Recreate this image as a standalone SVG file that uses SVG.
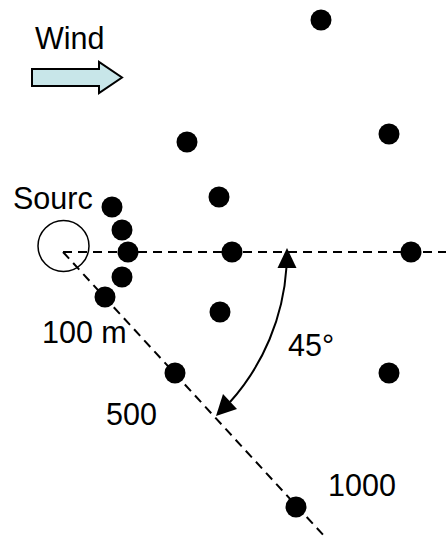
<svg xmlns="http://www.w3.org/2000/svg" width="446" height="538" viewBox="0 0 446 538">
  <style>
    .lbl { font-family: "Liberation Sans", Arial, sans-serif; font-size: 30.5px; fill: #000; }
    .dash { stroke: #000; stroke-width: 2; stroke-dasharray: 9 6; fill: none; }
    .dot { fill: #000; }
  </style>
  <rect width="446" height="538" fill="#fff"/>

  <!-- wind indicator -->
  <g id="wind">
    <text class="lbl" x="35" y="49">Wind</text>
    <path d="M32,69 H99 V62 L122,77.5 L99,93 V86 H32 Z" fill="#c8e6e9" stroke="#000" stroke-width="2" stroke-linejoin="miter"/>
  </g>

  <!-- connectors: centre lines and the angle arc -->
  <g id="connectors">
    <line class="dash" x1="63" y1="252" x2="446" y2="252"/>
    <line class="dash" x1="63" y1="252" x2="326" y2="538"/>
    <path d="M286.5,267 A224,224 0 0 1 230,402" fill="none" stroke="#000" stroke-width="2"/>
    <polygon points="287,248 277.5,268 296.5,268" fill="#000"/>
    <polygon points="216,416 237,409 223,394" fill="#000"/>
  </g>

  <!-- source -->
  <g id="source">
    <circle cx="63.5" cy="246" r="25.5" fill="none" stroke="#000" stroke-width="1.5"/>
    <text class="lbl" x="13" y="209">Sourc</text>
  </g>

  <!-- receptors -->
  <g id="receptors">
    <circle class="dot" cx="321" cy="20" r="10.5"/>
    <circle class="dot" cx="187" cy="142" r="10.5"/>
    <circle class="dot" cx="389" cy="134" r="10.5"/>
    <circle class="dot" cx="219" cy="197" r="10.5"/>
    <circle class="dot" cx="112" cy="207" r="10.5"/>
    <circle class="dot" cx="122" cy="230" r="10.5"/>
    <circle class="dot" cx="128" cy="252" r="10.5"/>
    <circle class="dot" cx="122" cy="277" r="10.5"/>
    <circle class="dot" cx="105" cy="297" r="10.5"/>
    <circle class="dot" cx="232" cy="252" r="10.5"/>
    <circle class="dot" cx="411" cy="252" r="10.5"/>
    <circle class="dot" cx="220" cy="312" r="10.5"/>
    <circle class="dot" cx="389" cy="373" r="10.5"/>
    <circle class="dot" cx="175" cy="373" r="10.5"/>
    <circle class="dot" cx="296" cy="507" r="10.5"/>
  </g>

  <!-- distance and angle labels -->
  <g id="labels">
    <text class="lbl" x="42" y="343">100 m</text>
    <text class="lbl" x="106" y="425">500</text>
    <text class="lbl" x="288" y="356">45°</text>
    <text class="lbl" x="328" y="496">1000</text>
  </g>
</svg>
